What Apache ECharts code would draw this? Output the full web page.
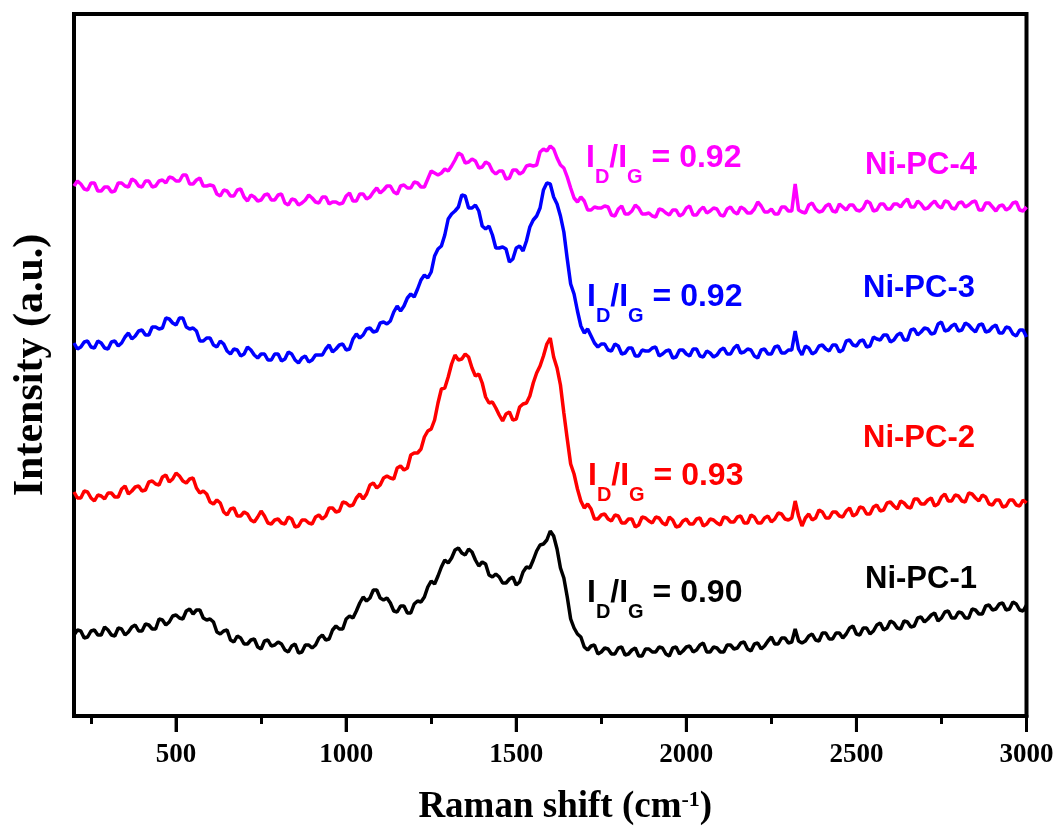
<!DOCTYPE html>
<html>
<head>
<meta charset="utf-8">
<script src="https://cdn.jsdelivr.net/npm/echarts@6/dist/echarts.min.js"></script>
<style>
  html, body { margin: 0; padding: 0; background: #fff; }
  #chart { width: 1059px; height: 832px; }
</style>
</head>
<body>
<div id="chart"></div>
<script>
// Raman shift axis (cm^-1), sampled every 10 cm^-1
const wavenumber = [
  200,210,220,230,240,250,260,270,280,290,300,310,320,330,340,350,360,370,380,390,
  400,410,420,430,440,450,460,470,480,490,500,510,520,530,540,550,560,570,580,590,
  600,610,620,630,640,650,660,670,680,690,700,710,720,730,740,750,760,770,780,790,
  800,810,820,830,840,850,860,870,880,890,900,910,920,930,940,950,960,970,980,990,
  1000,1010,1020,1030,1040,1050,1060,1070,1080,1090,1100,1110,1120,1130,1140,1150,1160,1170,1180,1190,
  1200,1210,1220,1230,1240,1250,1260,1270,1280,1290,1300,1310,1320,1330,1340,1350,1360,1370,1380,1390,
  1400,1410,1420,1430,1440,1450,1460,1470,1480,1490,1500,1510,1520,1530,1540,1550,1560,1570,1580,1590,
  1600,1610,1620,1630,1640,1650,1660,1670,1680,1690,1700,1710,1720,1730,1740,1750,1760,1770,1780,1790,
  1800,1810,1820,1830,1840,1850,1860,1870,1880,1890,1900,1910,1920,1930,1940,1950,1960,1970,1980,1990,
  2000,2010,2020,2030,2040,2050,2060,2070,2080,2090,2100,2110,2120,2130,2140,2150,2160,2170,2180,2190,
  2200,2210,2220,2230,2240,2250,2260,2270,2280,2290,2300,2310,2320,2330,2340,2350,2360,2370,2380,2390,
  2400,2410,2420,2430,2440,2450,2460,2470,2480,2490,2500,2510,2520,2530,2540,2550,2560,2570,2580,2590,
  2600,2610,2620,2630,2640,2650,2660,2670,2680,2690,2700,2710,2720,2730,2740,2750,2760,2770,2780,2790,
  2800,2810,2820,2830,2840,2850,2860,2870,2880,2890,2900,2910,2920,2930,2940,2950,2960,2970,2980,2990,
  3000
];

// Offset Raman intensities (a.u.), one value per wavenumber
const niPC1 = [
  81,86,85,78,79,85,86,81,81,89,86,81,80,88,87,81,84,89,91,85,
  85,92,91,87,87,97,96,91,94,100,101,98,97,105,107,102,106,106,98,96,
  97,94,84,82,85,86,76,74,80,78,72,72,76,77,69,67,75,76,70,71,
  74,72,66,64,70,72,63,64,71,71,68,71,78,81,76,77,86,90,87,87,
  97,100,98,105,113,119,115,118,126,126,118,116,118,113,105,104,110,110,103,103,
  112,115,114,119,129,135,132,140,149,156,153,158,166,168,163,161,167,164,156,150,
  154,152,141,139,142,139,133,133,137,139,131,134,144,149,148,156,165,171,172,176,
  185,180,167,148,138,119,97,88,82,79,69,66,70,71,62,64,68,67,62,62,
  68,69,61,62,66,68,60,60,67,67,64,64,69,68,62,60,68,69,62,65,
  69,70,64,66,71,73,64,64,69,68,64,64,71,71,67,68,73,74,67,65,
  72,73,67,70,75,79,72,72,78,78,73,74,87,75,73,75,80,82,76,75,
  83,83,77,77,83,83,78,82,88,90,82,81,88,88,82,85,91,93,86,88,
  95,93,88,87,95,94,89,90,98,99,94,97,101,103,95,98,104,105,98,98,
  104,103,98,98,107,106,102,102,110,111,106,107,112,113,106,107,114,112,106,105,
  111
];
const niPC2 = [
  224,218,218,225,224,218,215,221,220,217,223,223,219,219,227,230,222,225,229,230,
  225,226,234,235,232,231,239,241,234,237,243,240,235,233,237,238,228,223,225,222,
  214,212,216,213,204,201,207,208,200,200,204,202,196,194,199,205,200,193,192,196,
  197,193,192,199,197,189,190,196,196,193,192,199,201,197,200,208,208,204,205,214,
  213,210,211,218,222,217,222,231,233,228,231,238,240,238,237,248,250,246,248,261,
  263,263,267,279,285,287,296,313,327,328,339,352,361,356,357,362,359,348,340,342,
  333,319,313,314,308,301,295,302,304,296,297,309,312,313,320,333,343,350,360,372,
  378,359,348,331,303,277,252,242,227,215,208,212,207,197,197,201,202,197,195,201,
  200,193,193,197,197,189,191,199,198,195,193,199,198,193,191,199,196,189,190,195,
  197,192,192,197,198,190,192,197,196,193,191,199,198,194,194,199,200,193,193,201,
  199,193,193,198,200,194,197,203,202,197,196,198,215,200,190,198,202,196,198,206,
  204,198,198,204,204,200,199,205,208,200,202,209,208,202,202,209,211,205,206,213,
  214,210,207,215,213,209,208,217,217,212,212,216,218,210,212,219,222,215,215,221,
  220,215,214,223,222,218,215,221,219,212,211,216,216,209,210,216,216,211,210,216,
  213
];
const niPC3 = [
  373,367,369,374,375,369,368,375,373,368,367,374,375,370,373,379,383,377,380,385,
  386,381,381,389,389,387,388,398,397,393,391,398,398,389,387,388,385,375,375,378,
  378,371,369,375,372,365,362,367,366,360,362,369,366,361,358,362,362,356,356,362,
  362,355,357,364,362,356,353,358,360,354,356,361,361,361,367,371,364,367,371,372,
  366,367,377,382,378,381,387,388,384,385,393,394,392,395,404,410,405,410,418,422,
  419,427,436,441,438,444,460,467,470,481,497,502,505,509,521,520,508,508,511,505,
  490,487,490,481,468,468,469,467,454,457,468,470,465,475,489,496,500,508,526,533,
  532,519,512,500,484,457,432,422,405,390,383,387,380,373,369,372,372,366,365,372,
  370,362,363,368,368,360,360,366,365,365,368,369,360,362,365,366,358,359,366,366,
  362,360,367,367,360,359,365,363,359,361,366,368,362,362,368,371,363,364,367,366,
  360,358,366,367,362,362,369,370,363,363,366,366,385,367,361,370,368,362,364,370,
  371,367,365,371,371,364,366,375,376,371,370,375,376,369,370,379,377,376,381,381,
  374,376,381,383,376,376,386,387,381,384,388,387,382,383,392,394,385,386,390,392,
  385,386,393,391,387,384,391,392,384,385,389,391,383,383,389,388,382,380,386,386,
  379
];
const niPC4 = [
  530,535,532,527,526,533,533,525,525,529,529,524,525,533,533,530,529,537,535,530,
  529,535,535,529,530,535,536,533,539,538,535,535,541,541,532,532,536,538,530,530,
  531,530,522,520,526,525,520,520,526,527,519,515,521,519,515,516,521,522,516,516,
  521,522,513,511,517,516,511,513,516,521,518,514,513,519,519,512,514,514,512,513,
  520,523,515,515,522,522,517,519,524,528,523,526,530,530,524,522,530,531,528,528,
  534,533,529,529,537,545,543,541,543,547,545,550,556,563,561,553,554,557,555,548,
  549,554,552,545,542,545,545,537,538,546,546,542,544,550,551,550,551,564,567,565,
  570,567,558,551,548,539,528,518,514,519,515,506,506,509,508,508,510,509,501,500,
  507,510,502,502,505,511,508,502,502,503,500,499,507,506,503,501,506,506,500,502,
  508,510,501,501,506,509,503,505,508,507,501,500,507,509,504,502,509,507,503,503,
  507,514,510,504,504,507,502,502,509,509,505,505,532,506,504,503,511,513,507,504,
  505,510,512,505,504,512,509,506,511,511,506,505,508,515,513,505,506,512,512,507,
  507,512,512,509,514,517,509,509,515,512,507,508,512,515,510,508,515,514,508,507,
  513,514,509,511,514,515,506,506,513,513,509,505,510,511,506,508,513,514,506,505,
  509
];

const sampleNames = ['Ni-PC-1', 'Ni-PC-2', 'Ni-PC-3', 'Ni-PC-4'];
const idigRatios = ['0.90', '0.93', '0.92', '0.92'];
const lineColors = ['#000000', '#ff0000', '#0000ff', '#ff00ff'];
const spectra = [niPC1, niPC2, niPC3, niPC4];

const majorTicks = [500, 1000, 1500, 2000, 2500, 3000];
const minorTicks = [250, 750, 1250, 1750, 2250, 2750];

// label anchor points in px (left edge, vertical centre of the capitals)
const ratioAnchors = [[587, 593], [588, 476], [587, 297], [586, 158]];
const nameAnchors = [[865, 579], [863, 438], [863, 288], [865, 165]];

const SANS = 'Liberation Sans, Arial, sans-serif';
const serifBold = { fontFamily: 'Liberation Serif, Times New Roman, serif', fontWeight: 'bold' };
const MAIN_SIZE = 32;
const SUB_SIZE = 20;
const SUB_DROP = 19;

const chart = echarts.init(document.getElementById('chart'));

const measureCtx = document.createElement('canvas').getContext('2d');
function textWidth(str, size) {
  measureCtx.font = 'bold ' + size + 'px ' + SANS;
  return measureCtx.measureText(str).width;
}

// I_D/I_G = value, built from plain text pieces with lowered subscripts
function ratioPieces(k) {
  const parts = [
    ['I', false], ['D', true], ['/I', false], ['G', true], [' = ' + idigRatios[k], false]
  ];
  let x = ratioAnchors[k][0];
  const yc = ratioAnchors[k][1];
  return parts.map(([str, isSub]) => {
    const size = isSub ? SUB_SIZE : MAIN_SIZE;
    const el = {
      type: 'text',
      x: x,
      y: isSub ? yc + SUB_DROP : yc,
      z: 100,
      style: {
        text: str, fontSize: size, fontWeight: 'bold', fontFamily: SANS,
        fill: lineColors[k], align: 'left', verticalAlign: 'middle'
      }
    };
    x += textWidth(str, size);
    return el;
  });
}

function nameText(k) {
  return {
    type: 'text',
    x: nameAnchors[k][0],
    y: nameAnchors[k][1],
    z: 100,
    style: {
      text: sampleNames[k], fontSize: 31, fontWeight: 'bold', fontFamily: SANS,
      fill: lineColors[k], align: 'left', verticalAlign: 'middle'
    }
  };
}

const series = spectra.map((ys, k) => ({
  name: sampleNames[k],
  type: 'line',
  showSymbol: false,
  data: wavenumber.map((x, i) => [x, ys[i]]),
  lineStyle: { color: lineColors[k], width: 3.5 }
}));

// major tick marks drawn as a custom series below the axis line
series.push({
  type: 'custom',
  clip: false,
  silent: true,
  data: majorTicks.map((v) => [v, 0]),
  renderItem: (params, api) => {
    const p = api.coord([api.value(0), api.value(1)]);
    return {
      type: 'line',
      shape: { x1: p[0], y1: p[1], x2: p[0], y2: p[1] + 16 },
      style: { stroke: '#000', lineWidth: 3 }
    };
  }
});

const baseX = { type: 'value', min: 200, max: 3000, position: 'bottom', splitLine: { show: false } };

chart.setOption({
  animation: false,
  backgroundColor: '#ffffff',
  grid: {
    left: 74, right: 32.5, top: 14, bottom: 116,
    show: true, borderColor: '#000', borderWidth: 4, backgroundColor: 'transparent'
  },
  xAxis: [
    Object.assign({}, baseX, {
      axisLine: { show: true, onZero: false, lineStyle: { color: '#000', width: 4 } },
      axisTick: { show: false },
      axisLabel: Object.assign({
        show: true, customValues: majorTicks.slice(), margin: 26, fontSize: 27, color: '#000',
        formatter: (v) => String(v)
      }, serifBold),
      name: '{t|Raman shift (cm}{sup|-1}{t|)}',
      nameLocation: 'middle',
      nameGap: 73,
      nameTextStyle: {
        padding: [0, 0, 0, 30],
        rich: {
          t: Object.assign({ fontSize: 37, lineHeight: 44, verticalAlign: 'top', color: '#000' }, serifBold),
          sup: Object.assign({ fontSize: 22, lineHeight: 24, verticalAlign: 'top', color: '#000' }, serifBold)
        }
      }
    }),
    // major ticks
    Object.assign({}, baseX, {
      axisLine: { show: false, onZero: false },
      axisTick: { show: true, inside: false, length: 16, customValues: majorTicks.slice(), lineStyle: { color: '#000', width: 3 } },
      axisLabel: { show: false }
    }),
    // minor ticks
    Object.assign({}, baseX, {
      axisLine: { show: false, onZero: false },
      axisTick: { show: true, inside: false, length: 8, customValues: minorTicks.slice(), lineStyle: { color: '#000', width: 3 } },
      axisLabel: { show: false }
    })
  ],
  yAxis: {
    type: 'value',
    min: 0, max: 702,
    axisLine: { show: false },
    axisTick: { show: false },
    axisLabel: { show: false },
    splitLine: { show: false },
    name: 'Intensity (a.u.)',
    nameLocation: 'middle',
    nameRotate: 90,
    nameGap: 22,
    nameTextStyle: Object.assign({ fontSize: 42, color: '#000' }, serifBold)
  },
  series: series
});

const graphics = [];
for (let k = 0; k < 4; k++) {
  ratioPieces(k).forEach((el) => graphics.push(el));
  graphics.push(nameText(k));
}
chart.setOption({ graphic: graphics });
</script>
</body>
</html>
